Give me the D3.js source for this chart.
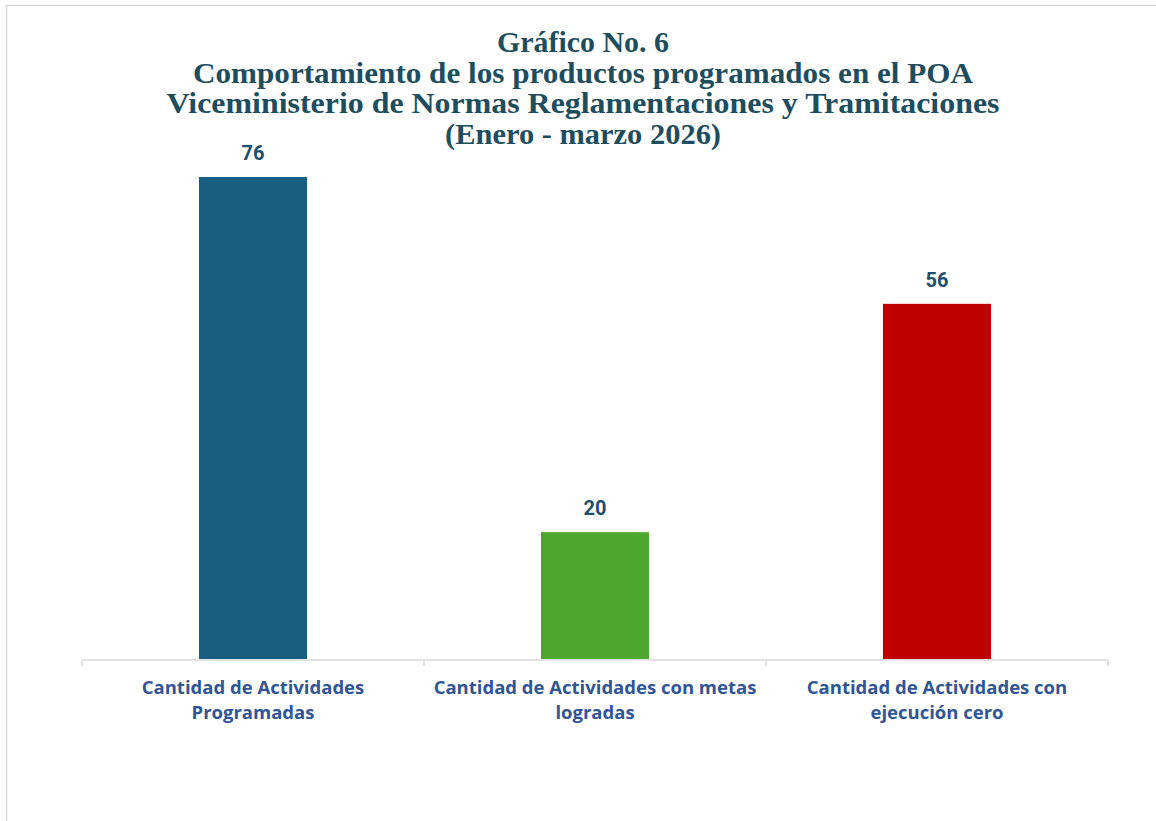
<!DOCTYPE html>
<html>
<head>
<meta charset="utf-8">
<script src="https://cdn.jsdelivr.net/npm/d3@7"></script>
<style>
  body { margin: 0; background: #fff; }
</style>
</head>
<body>
<script>
// Chart data
var categories = [
  ["Cantidad de Actividades", "Programadas"],
  ["Cantidad de Actividades con metas", "logradas"],
  ["Cantidad de Actividades con", "ejecución cero"]
];
var values = [76, 20, 56];
var barColors = ["#175E80", "#4EA72E", "#C00000"];
var titleLines = [
  "Gráfico No. 6",
  "Comportamiento de los productos programados en el POA",
  "Viceministerio de Normas Reglamentaciones y Tramitaciones",
  "(Enero - marzo 2026)"
];
// measured widths of the condensed title lines
var titleWidths = [172, 780, 833, 276];

var svgWidth = 1156;
var svgHeight = 821;

var svg = d3.select("body")
  .append("svg")
  .attr("width", svgWidth)
  .attr("height", svgHeight);

// chart frame (cropped on right/bottom)
svg.append("rect")
  .attr("x", 6.5)
  .attr("y", 5.5)
  .attr("width", 1200)
  .attr("height", 900)
  .attr("fill", "none")
  .attr("stroke", "#d9d9d9")
  .attr("stroke-width", 1.5);

// title
svg.append("text")
  .attr("text-anchor", "middle")
  .attr("font-family", "'Liberation Serif', 'Times New Roman', serif")
  .attr("font-weight", "bold")
  .attr("font-size", "28.5px")
  .attr("fill", "#1D4E5F")
  .selectAll("tspan")
  .data(titleLines)
  .enter()
  .append("tspan")
  .attr("x", 583)
  .attr("y", (d, i) => 52 + i * 30.5)
  .attr("textLength", (d, i) => titleWidths[i])
  .attr("lengthAdjust", "spacingAndGlyphs")
  .text(d => d);

var baseY = 659;

var x = d3.scaleBand()
  .domain(d3.range(values.length))
  .range([82, 1108])
  .paddingInner(0.684)
  .paddingOuter(0.342);

var y = d3.scaleLinear()
  .domain([0, 76])
  .range([baseY, 177]);

// bars
svg.selectAll(".bar")
  .data(values)
  .enter()
  .append("rect")
  .attr("class", "bar")
  .attr("x", (d, i) => x(i))
  .attr("y", d => y(d))
  .attr("width", x.bandwidth())
  .attr("height", d => baseY - y(d))
  .attr("fill", (d, i) => barColors[i]);

// value labels
svg.selectAll(".val")
  .data(values)
  .enter()
  .append("text")
  .attr("class", "val")
  .attr("x", (d, i) => x(i) + x.bandwidth() / 2)
  .attr("y", d => y(d) - 17)
  .attr("text-anchor", "middle")
  .attr("font-family", "Roboto, 'Open Sans', sans-serif")
  .attr("font-weight", "bold")
  .attr("font-size", "20px")
  .attr("fill", "#1B4F6E")
  .text(d => d);

// category axis
var step = (1108 - 82) / values.length;
var axisG = svg.append("g").attr("stroke", "#d9d9d9").attr("stroke-width", 1.5);
axisG.append("line")
  .attr("x1", 82).attr("x2", 1108)
  .attr("y1", baseY + 1).attr("y2", baseY + 1);
axisG.selectAll(".tick")
  .data(d3.range(values.length + 1))
  .enter()
  .append("line")
  .attr("x1", d => 82 + d * step).attr("x2", d => 82 + d * step)
  .attr("y1", baseY + 1).attr("y2", baseY + 7);

var labels = svg.selectAll(".cat")
  .data(categories)
  .enter()
  .append("text")
  .attr("class", "cat")
  .attr("text-anchor", "middle")
  .attr("font-family", "'Open Sans', Roboto, sans-serif")
  .attr("font-weight", "bold")
  .attr("font-size", "18.5px")
  .attr("fill", "#2F5597");

labels.selectAll("tspan")
  .data((d, i) => d.map(t => ({ t: t, i: i })))
  .enter()
  .append("tspan")
  .attr("x", d => x(d.i) + x.bandwidth() / 2)
  .attr("y", (d, j) => 694 + j * 25)
  .text(d => d.t);
</script>
</body>
</html>
